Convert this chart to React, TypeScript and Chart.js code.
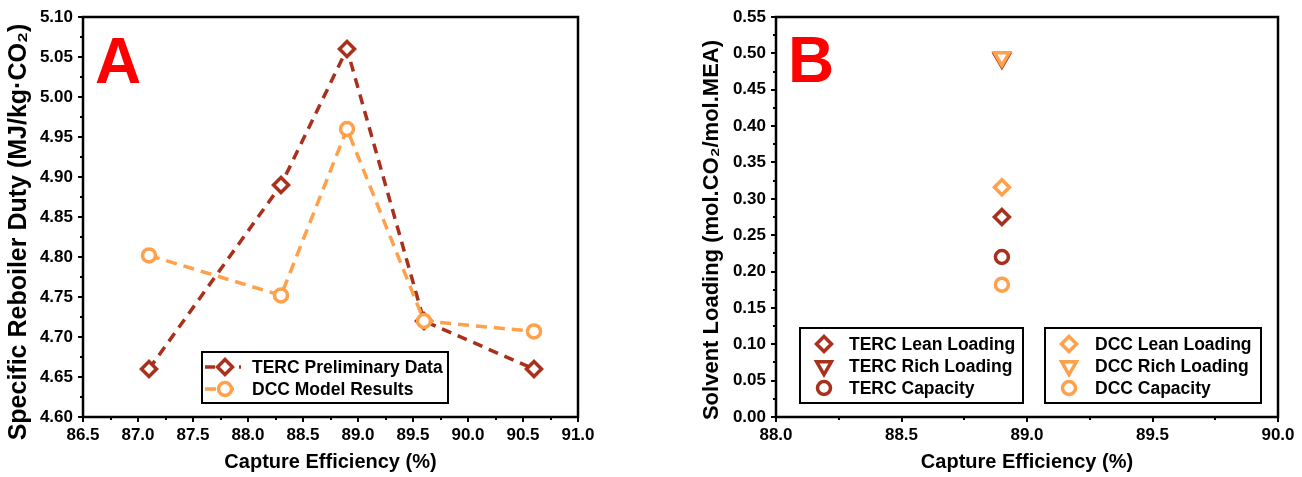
import React, { useEffect, useRef } from 'react';
import { Chart, registerables } from 'chart.js';

Chart.register(...registerables);

// ---------- data ----------
const DARK = '#A8301C';
const ORANGE = '#FFA04A';
const FONT = "'Liberation Sans', Arial, Helvetica, sans-serif";

// Panel A
const captureA = [87.1, 88.3, 88.9, 89.6, 90.6];
const tercDuty = [4.66, 4.89, 5.06, 4.72, 4.66];
const dccDuty = [4.802, 4.752, 4.96, 4.72, 4.707];
const legendA = ['TERC Preliminary Data', 'DCC Model Results'];
const yTitleA = 'Specific Reboiler Duty (MJ/kg·CO₂)';

// Panel B
const captureB = [88.9];
const tercLean = [0.275];
const tercRich = [0.493];
const tercCap = [0.22];
const dccLean = [0.316];
const dccRich = [0.495];
const dccCap = [0.182];
const legendTerc = ['TERC Lean Loading', 'TERC Rich Loading', 'TERC Capacity'];
const legendDcc = ['DCC Lean Loading', 'DCC Rich Loading', 'DCC Capacity'];
const yTitleB = 'Solvent Loading (mol.CO₂/mol.MEA)';
const xTitle = 'Capture Efficiency (%)';

const pts = (xs: number[], ys: number[]) => xs.map((x, i) => ({ x, y: ys[i] }));

// ---------- helpers ----------
function drawMarker(ctx: CanvasRenderingContext2D, shape: string, x: number, y: number, r: number, color: string, bw: number) {
  ctx.save();
  ctx.beginPath();
  if (shape === 'diamond') {
    ctx.moveTo(x, y - r);
    ctx.lineTo(x + r, y);
    ctx.lineTo(x, y + r);
    ctx.lineTo(x - r, y);
    ctx.closePath();
  } else if (shape === 'circle') {
    ctx.arc(x, y, r, 0, Math.PI * 2);
  } else {
    const s = Math.sin(Math.PI / 3) * r;
    ctx.moveTo(x, y + r);
    ctx.lineTo(x - s, y - r / 2);
    ctx.lineTo(x + s, y - r / 2);
    ctx.closePath();
  }
  ctx.fillStyle = '#fff';
  ctx.fill();
  ctx.lineWidth = bw;
  ctx.strokeStyle = color;
  ctx.stroke();
  ctx.restore();
}

function drawMinorAndFrame(chart: any) {
  const ctx: CanvasRenderingContext2D = chart.ctx;
  const a = chart.chartArea;
  const xs = chart.scales.x;
  const ys = chart.scales.y;
  ctx.save();
  ctx.strokeStyle = '#000';
  ctx.lineWidth = 2;
  ctx.beginPath();
  for (let i = 0; i < xs.ticks.length - 1; i++) {
    const m = (xs.ticks[i].value + xs.ticks[i + 1].value) / 2;
    const px = Math.round(xs.getPixelForValue(m));
    ctx.moveTo(px, a.bottom);
    ctx.lineTo(px, a.bottom + 3);
  }
  for (let i = 0; i < ys.ticks.length - 1; i++) {
    const m = (ys.ticks[i].value + ys.ticks[i + 1].value) / 2;
    const py = Math.round(ys.getPixelForValue(m));
    ctx.moveTo(a.left, py);
    ctx.lineTo(a.left - 3, py);
  }
  ctx.stroke();
  ctx.lineWidth = 2.5;
  ctx.strokeRect(a.left, a.top, a.right - a.left, a.bottom - a.top);
  ctx.restore();
}

function drawLetter(ctx: CanvasRenderingContext2D, letter: string, x: number, y: number) {
  ctx.save();
  ctx.font = `bold 64px ${FONT}`;
  ctx.fillStyle = '#FF0000';
  ctx.textBaseline = 'alphabetic';
  ctx.textAlign = 'left';
  ctx.fillText(letter, x, y);
  ctx.restore();
}

function drawYTitle(ctx: CanvasRenderingContext2D, text: string, cx: number, cy: number, size: number) {
  ctx.save();
  ctx.translate(cx, cy);
  ctx.rotate(-Math.PI / 2);
  ctx.font = `bold ${size}px ${FONT}`;
  ctx.fillStyle = '#000';
  ctx.textAlign = 'center';
  ctx.textBaseline = 'middle';
  ctx.fillText(text, 0, 0);
  ctx.restore();
}

function baseScales(xMin: number, xMax: number, xStep: number, xDec: number, yMin: number, yMax: number, yStep: number, yDec: number, yWidth: number) {
  const tickFont = { family: FONT, size: 17, weight: 'bold' as const };
  const titleFont = { family: FONT, size: 20, weight: 'bold' as const };
  return {
    x: {
      type: 'linear' as const,
      position: 'bottom' as const,
      min: xMin,
      max: xMax,
      afterFit: (s: any) => { s.height = 60; },
      ticks: {
        stepSize: xStep,
        autoSkip: false,
        padding: 3,
        color: '#000',
        font: tickFont,
        callback: (v: any) => Number(v).toFixed(xDec),
      },
      grid: { drawOnChartArea: false, drawTicks: true, tickLength: 5, color: '#000', lineWidth: 2 },
      border: { display: false },
      title: { display: true, text: xTitle, color: '#000', font: titleFont, padding: { top: 0, bottom: 2.5 } },
    },
    y: {
      type: 'linear' as const,
      position: 'left' as const,
      min: yMin,
      max: yMax,
      afterFit: (s: any) => { s.width = yWidth; },
      ticks: {
        stepSize: yStep,
        autoSkip: false,
        padding: 5,
        color: '#000',
        font: tickFont,
        callback: (v: any) => Number(v).toFixed(yDec),
      },
      grid: { drawOnChartArea: false, drawTicks: true, tickLength: 5, color: '#000', lineWidth: 2 },
      border: { display: false },
      title: { display: false },
    },
  };
}

export default function App() {
  const refA = useRef<HTMLCanvasElement>(null);
  const refB = useRef<HTMLCanvasElement>(null);

  useEffect(() => {
    const legendAPlugin = {
      id: 'decorA',
      afterDraw(chart: any) {
        const ctx: CanvasRenderingContext2D = chart.ctx;
        drawMinorAndFrame(chart);
        drawLetter(ctx, 'A', 95, 83);
        drawYTitle(ctx, yTitleA, 19, 232, 25);
        ctx.save();
        ctx.lineWidth = 2;
        ctx.strokeStyle = '#000';
        ctx.strokeRect(202, 352, 246, 51);
        const rows = [367, 389];
        const cols = [DARK, ORANGE];
        const shapes = ['diamond', 'circle'];
        const dashes = [[10, 7], [11, 7]];
        rows.forEach((ry, i) => {
          ctx.save();
          ctx.strokeStyle = cols[i];
          ctx.lineWidth = 3.5;
          ctx.setLineDash(dashes[i]);
          ctx.beginPath();
          ctx.moveTo(205, ry);
          ctx.lineTo(241, ry);
          ctx.stroke();
          ctx.restore();
          drawMarker(ctx, shapes[i], 225, ry, i === 0 ? 7.5 : 6.5, cols[i], 3.5);
          ctx.font = `bold 17.5px ${FONT}`;
          ctx.fillStyle = '#000';
          ctx.textBaseline = 'middle';
          ctx.fillText(legendA[i], 252, ry + 1);
        });
        ctx.restore();
      },
    };

    const legendBPlugin = {
      id: 'decorB',
      afterDraw(chart: any) {
        const ctx: CanvasRenderingContext2D = chart.ctx;
        drawMinorAndFrame(chart);
        drawLetter(ctx, 'B', 148, 82);
        drawYTitle(ctx, yTitleB, 72, 230, 22);
        ctx.save();
        ctx.lineWidth = 2;
        ctx.strokeStyle = '#000';
        ctx.strokeRect(160, 328, 223, 75);
        ctx.strokeRect(405, 328, 216, 75);
        const rows = [344, 366, 388];
        const shapes = ['diamond', 'triDown', 'circle'];
        const radii = [7.5, 8.5, 6.5];
        rows.forEach((ry, i) => {
          drawMarker(ctx, shapes[i], 184, ry, radii[i], DARK, 3.5);
          drawMarker(ctx, shapes[i], 429, ry, radii[i], ORANGE, 3.5);
          ctx.font = `bold 17.5px ${FONT}`;
          ctx.fillStyle = '#000';
          ctx.textBaseline = 'middle';
          ctx.fillText(legendTerc[i], 209, ry + 1);
          ctx.fillText(legendDcc[i], 455, ry + 1);
        });
        ctx.restore();
      },
    };

    const chartA = new Chart(refA.current!, {
      type: 'scatter',
      data: {
        datasets: [
          {
            label: legendA[0],
            data: pts(captureA, tercDuty),
            showLine: true,
            borderColor: DARK,
            borderWidth: 3.5,
            borderDash: [10, 7],
            pointStyle: 'rectRot',
            pointRadius: 7.5,
            pointBorderWidth: 3.5,
            pointBackgroundColor: '#fff',
            pointBorderColor: DARK,
            order: 1,
          },
          {
            label: legendA[1],
            data: pts(captureA, dccDuty),
            showLine: true,
            borderColor: ORANGE,
            borderWidth: 3.5,
            borderDash: [11, 7],
            pointStyle: 'circle',
            pointRadius: 6.5,
            pointBorderWidth: 3.5,
            pointBackgroundColor: '#fff',
            pointBorderColor: ORANGE,
            order: 0,
          },
        ],
      },
      options: {
        responsive: false,
        animation: false,
        layout: { padding: { left: 0, top: 17, right: 62, bottom: 0 } },
        plugins: { legend: { display: false }, tooltip: { enabled: false } },
        scales: baseScales(86.5, 91.0, 0.5, 1, 4.6, 5.1, 0.05, 2, 83) as any,
      },
      plugins: [legendAPlugin],
    });

    const mk = (label: string, ys: number[], style: string, rot: number, color: string, r: number, order: number) => ({
      label,
      data: pts(captureB, ys),
      showLine: false,
      pointStyle: style,
      rotation: rot,
      pointRadius: r,
      pointBorderWidth: 3.5,
      pointBackgroundColor: '#fff',
      pointBorderColor: color,
      order,
    });

    const chartB = new Chart(refB.current!, {
      type: 'scatter',
      data: {
        datasets: [
          mk(legendTerc[0], tercLean, 'rectRot', 0, DARK, 7.5, 1),
          mk(legendTerc[1], tercRich, 'triangle', 180, DARK, 8.5, 1),
          mk(legendTerc[2], tercCap, 'circle', 0, DARK, 6.5, 1),
          mk(legendDcc[0], dccLean, 'rectRot', 0, ORANGE, 7.5, 0),
          mk(legendDcc[1], dccRich, 'triangle', 180, ORANGE, 8.5, 0),
          mk(legendDcc[2], dccCap, 'circle', 0, ORANGE, 6.5, 0),
        ] as any,
      },
      options: {
        responsive: false,
        animation: false,
        layout: { padding: { left: 0, top: 17, right: 24, bottom: 0 } },
        plugins: { legend: { display: false }, tooltip: { enabled: false } },
        scales: baseScales(88.0, 90.0, 0.5, 1, 0, 0.55, 0.05, 2, 136) as any,
      },
      plugins: [legendBPlugin],
    });

    return () => {
      chartA.destroy();
      chartB.destroy();
    };
  }, []);

  return (
    <div style={{ position: 'absolute', left: 0, top: 0, width: 1302, height: 477, background: '#fff' }}>
      <canvas ref={refA} width={640} height={477} style={{ position: 'absolute', left: 0, top: 0, width: 640, height: 477 }} />
      <canvas ref={refB} width={662} height={477} style={{ position: 'absolute', left: 640, top: 0, width: 662, height: 477 }} />
    </div>
  );
}
